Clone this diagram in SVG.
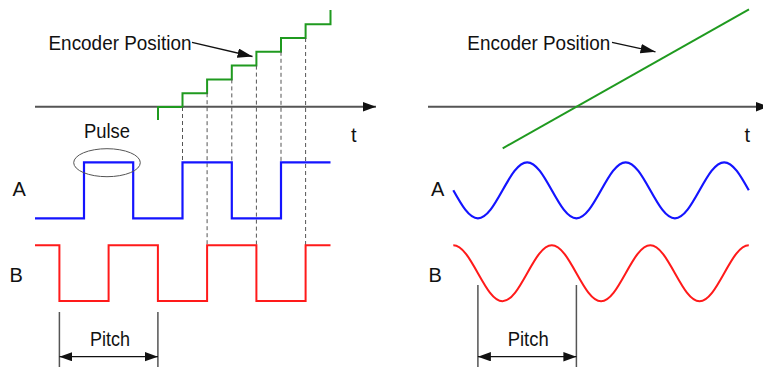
<svg xmlns="http://www.w3.org/2000/svg" width="763" height="367" viewBox="0 0 763 367">
<style>
text{font-family:"Liberation Sans",Arial,sans-serif;font-size:20px;fill:#111}
.big{font-size:21px}
.axis{stroke:#555;stroke-width:2;fill:none}
.grn{stroke:#1f9a1f;stroke-width:2;fill:none}
.blu{stroke:#1414ff;stroke-width:2.2;fill:none}
.red{stroke:#ff1a1a;stroke-width:2;fill:none}
.dash{stroke:#555;stroke-width:1;stroke-dasharray:4 3;fill:none}
.dim{stroke:#555;stroke-width:1.5;fill:none}
.ptr{stroke:#111;stroke-width:1.3;fill:none}
</style>
<defs>
<marker id="ah" markerUnits="userSpaceOnUse" markerWidth="14" markerHeight="10" refX="13" refY="4.7" orient="auto-start-reverse"><path d="M0,0 L13,4.7 L0,9.4 z" fill="#111"/></marker>
<marker id="ah2" markerUnits="userSpaceOnUse" markerWidth="16" markerHeight="10" refX="15" refY="4.7" orient="auto-start-reverse"><path d="M0,0 L15,4.7 L0,9.4 z" fill="#111"/></marker>
</defs>

<g id="left-axis">
<path class="axis" d="M35,106.7 H376" marker-end="url(#ah)"/>
<text x="351" y="141.5">t</text>
</g>

<g id="left-encoder">
<path class="grn" d="M158,120 V107 H182.5 V93.2 H207.1 V79.4 H231.8 V65.6 H256.4 V51.8 H281 V38 H305.6 V24.2 H330.5 V10"/>
<text class="big" x="48.5" y="50" textLength="143" lengthAdjust="spacingAndGlyphs">Encoder Position</text>
</g>

<g id="left-dashes">
<path class="dash" d="M182.5,107 V162 M207.1,93.2 V245 M231.8,79.4 V162 M256.4,65.6 V245 M281,51.8 V162 M305.6,38 V245"/>
</g>

<g id="left-A">
<path class="blu" d="M35,218.3 H84 V162.3 H133.2 V218.3 H182.5 V162.3 H231.8 V218.3 H281 V162.3 H330.5"/>
<text x="12.5" y="196">A</text>
</g>

<g id="pulse">
<ellipse cx="107" cy="162.7" rx="33.3" ry="14" fill="none" stroke="#555" stroke-width="1"/>
<text class="big" x="84" y="138.3" textLength="46" lengthAdjust="spacingAndGlyphs">Pulse</text>
</g>

<g id="left-B">
<path class="red" d="M35,245.3 H59.4 V301 H108.6 V245.3 H157.9 V301 H207.1 V245.3 H256.4 V301 H305.6 V245.3 H330.5"/>
<text x="9.5" y="282">B</text>
</g>

<g id="left-pitch">
<path class="dim" d="M59.4,312 V367 M157.9,312 V367"/>
<text x="90" y="345.5" textLength="40" lengthAdjust="spacingAndGlyphs">Pitch</text>
</g>

<g id="right-axis">
<path class="axis" d="M428,106.7 H769" marker-end="url(#ah)"/>
<text x="744.5" y="141.5">t</text>
</g>

<g id="right-encoder">
<path class="grn" d="M502.7,148.3 L749,9.3"/>
<text class="big" x="467.3" y="50" textLength="143" lengthAdjust="spacingAndGlyphs">Encoder Position</text>
</g>

<g id="right-A">
<path class="blu" d="M453.3,190.3
c8.031,14.344 15.713,28 24.625,28 c8.912,0 16.594,-13.656 24.625,-28 c8.031,-14.344 15.713,-28 24.625,-28 c8.912,0 16.594,13.656 24.625,28
c8.031,14.344 15.713,28 24.625,28 c8.912,0 16.594,-13.656 24.625,-28 c8.031,-14.344 15.713,-28 24.625,-28 c8.912,0 16.594,13.656 24.625,28
c8.031,14.344 15.713,28 24.625,28 c8.912,0 16.594,-13.656 24.625,-28 c8.031,-14.344 15.713,-28 24.625,-28 c8.912,0 16.594,13.656 24.625,28"/>
<text x="431" y="196">A</text>
</g>

<g id="right-B">
<path class="red" d="M453.3,245.15
c8.912,0 16.594,13.656 24.625,28 c8.031,14.344 15.713,28 24.625,28 c8.912,0 16.594,-13.656 24.625,-28 c8.031,-14.344 15.713,-28 24.625,-28
c8.912,0 16.594,13.656 24.625,28 c8.031,14.344 15.713,28 24.625,28 c8.912,0 16.594,-13.656 24.625,-28 c8.031,-14.344 15.713,-28 24.625,-28
c8.912,0 16.594,13.656 24.625,28 c8.031,14.344 15.713,28 24.625,28 c8.912,0 16.594,-13.656 24.625,-28 c8.031,-14.344 15.713,-28 24.625,-28"/>
<text x="428.5" y="281.7">B</text>
</g>

<g id="right-pitch">
<path class="dim" d="M477.9,285 V367 M576.4,285 V367"/>
<text x="507.7" y="345.5" textLength="41" lengthAdjust="spacingAndGlyphs">Pitch</text>
</g>

<g id="connectors">
<path class="ptr" d="M192,42.3 L252.5,56.5" marker-end="url(#ah2)"/>
<path class="ptr" d="M612,42.3 L655.5,51.8" marker-end="url(#ah2)"/>
<path class="ptr" d="M59.4,356.7 H157.9" marker-start="url(#ah)" marker-end="url(#ah)"/>
<path class="ptr" d="M477.9,356.7 H576.4" marker-start="url(#ah)" marker-end="url(#ah)"/>
</g>
</svg>
